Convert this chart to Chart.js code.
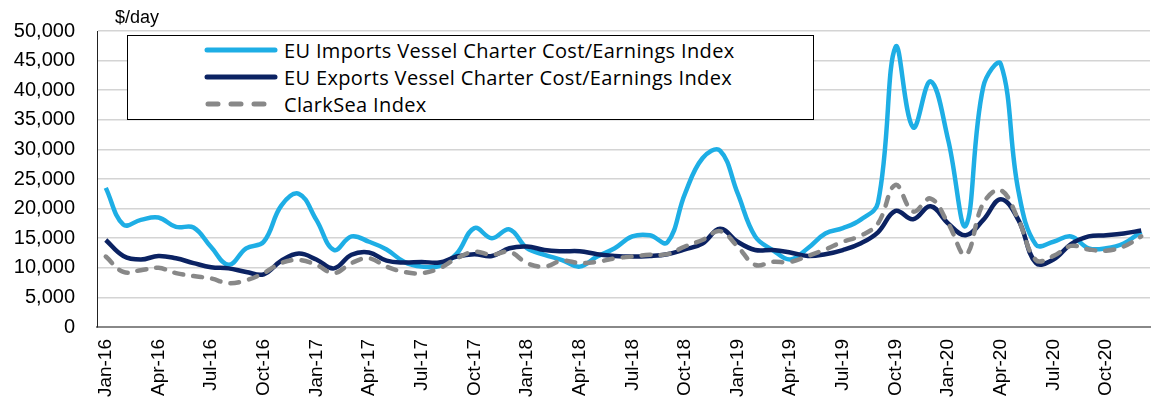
<!DOCTYPE html>
<html>
<head>
<meta charset="utf-8">
<script src="https://cdn.jsdelivr.net/npm/chart.js@4.4.1/dist/chart.umd.min.js"></script>
<style>
html,body{margin:0;padding:0;background:#fff;}
#wrap{position:relative;width:1153px;height:405px;}
#unit{position:absolute;left:115px;top:7px;font:18px "Liberation Sans",Arial,sans-serif;color:#000;}
#legend{position:absolute;left:127px;top:35px;width:687px;height:85px;border:1.5px solid #000;background:#fff;box-sizing:border-box;font:20px "Open Sans",sans-serif;letter-spacing:0.35px;color:#000;}
.row{position:absolute;left:76px;height:28px;display:flex;align-items:center;white-space:nowrap;}
.row svg{margin-right:6px;}
</style>
</head>
<body>
<div id="wrap">
  <canvas id="c" width="1153" height="405"></canvas>
  <div id="unit">$/day</div>
  <div id="legend">
    <div class="row" style="top:0px"><svg width="74" height="8"><line x1="3" y1="4" x2="71" y2="4" stroke="#1eaee5" stroke-width="5" stroke-linecap="round"/></svg>EU Imports Vessel Charter Cost/Earnings Index</div>
    <div class="row" style="top:27px"><svg width="74" height="8"><line x1="3" y1="4" x2="71" y2="4" stroke="#0b2262" stroke-width="5" stroke-linecap="round"/></svg>EU Exports Vessel Charter Cost/Earnings Index</div>
    <div class="row" style="top:54px"><svg width="74" height="8"><line x1="4" y1="4" x2="71" y2="4" stroke="#888" stroke-width="5" stroke-linecap="round" stroke-dasharray="10 13"/></svg>ClarkSea Index</div>
  </div>
</div>
<script>
// monthly, Jan-16 .. Dec-20, $/day
const months=['Jan','Feb','Mar','Apr','May','Jun','Jul','Aug','Sep','Oct','Nov','Dec'];
const years=['16','17','18','19','20'];
const categories=years.flatMap(y=>months.map(m=>m+'-'+y));

const euImports=[23500,17300,18100,18500,16900,16800,13500,10500,13300,14400,20500,22500,
  18100,13000,15300,14400,13100,11000,10200,10300,12400,16700,15000,16500,
  13300,12200,11300,10200,11900,13300,15300,15500,14300,22500,28500,29800,
  22600,15300,13000,11400,13300,15800,16700,18100,21000,47300,33700,41500,
  31600,17100,40600,44400,23000,13900,14400,15300,13300,13300,14100,16100];

const euExports=[14700,12000,11400,12000,11600,10800,10100,9900,9300,8900,11200,12400,
  11400,9900,12200,12600,11200,10900,11000,10900,11900,12300,12000,13300,
  13600,13000,12800,12800,12300,12000,11900,12000,12300,13100,14100,16600,
  14400,13000,13000,12600,12000,12300,13000,14100,16000,19600,18200,20400,
  17500,15500,18100,21600,18100,10800,11400,14000,15300,15500,15800,16300];

const clarkSea=[11900,9300,9600,10000,9100,8600,8200,7400,7900,9100,10800,11300,
  10500,9100,10800,11600,10200,9300,9100,9900,11600,12700,12200,12700,
  10800,10200,11200,10800,11000,11600,11900,12200,12300,13600,14700,16200,
  13600,10500,11000,11000,12000,13100,14400,15400,17500,24000,19500,21700,
  17500,12200,20900,23100,18100,11300,12000,13700,13100,12900,13600,15300];

const yMax=50000, yStep=5000;

const fontFam='"Liberation Sans", Arial, sans-serif';

new Chart(document.getElementById('c'),{
  type:'line',
  data:{labels:categories,datasets:[
    {label:'EU Imports Vessel Charter Cost/Earnings Index',data:euImports,borderColor:'#1eaee5',borderWidth:4.5,order:3},
    {label:'EU Exports Vessel Charter Cost/Earnings Index',data:euExports,borderColor:'#0b2262',borderWidth:4.5,order:2},
    {label:'ClarkSea Index',data:clarkSea,borderColor:'#888888',borderWidth:4.5,borderDash:[9,10],borderCapStyle:'round',order:1}
  ]},
  options:{
    responsive:false,animation:false,
    layout:{padding:{top:31,right:3,left:0,bottom:0}},
    elements:{point:{radius:0},line:{tension:0.4,fill:false}},
    plugins:{legend:{display:false},tooltip:{enabled:false}},
    scales:{
      x:{offset:true,
        grid:{display:false,drawTicks:false},
        border:{color:'#888',width:2},
        ticks:{autoSkip:false,maxRotation:90,minRotation:90,padding:12,color:'#000',font:{family:fontFam,size:19},
          callback:(v,i)=>i%3===0?categories[i]:''},
        afterFit:s=>{s.height=78;s.paddingLeft=0;s.paddingRight=0;}},
      y:{min:0,max:yMax,
        grid:{color:'#d4d4d4',lineWidth:1.5,drawTicks:false},
        border:{color:'#222',width:1},
        ticks:{stepSize:yStep,padding:22,color:'#000',font:{family:fontFam,size:20},
          callback:v=>v.toLocaleString('en-US')},
        afterFit:s=>{s.width=97;s.paddingTop=0;s.paddingBottom=0;}}
    }
  }
});
</script>
</body>
</html>
